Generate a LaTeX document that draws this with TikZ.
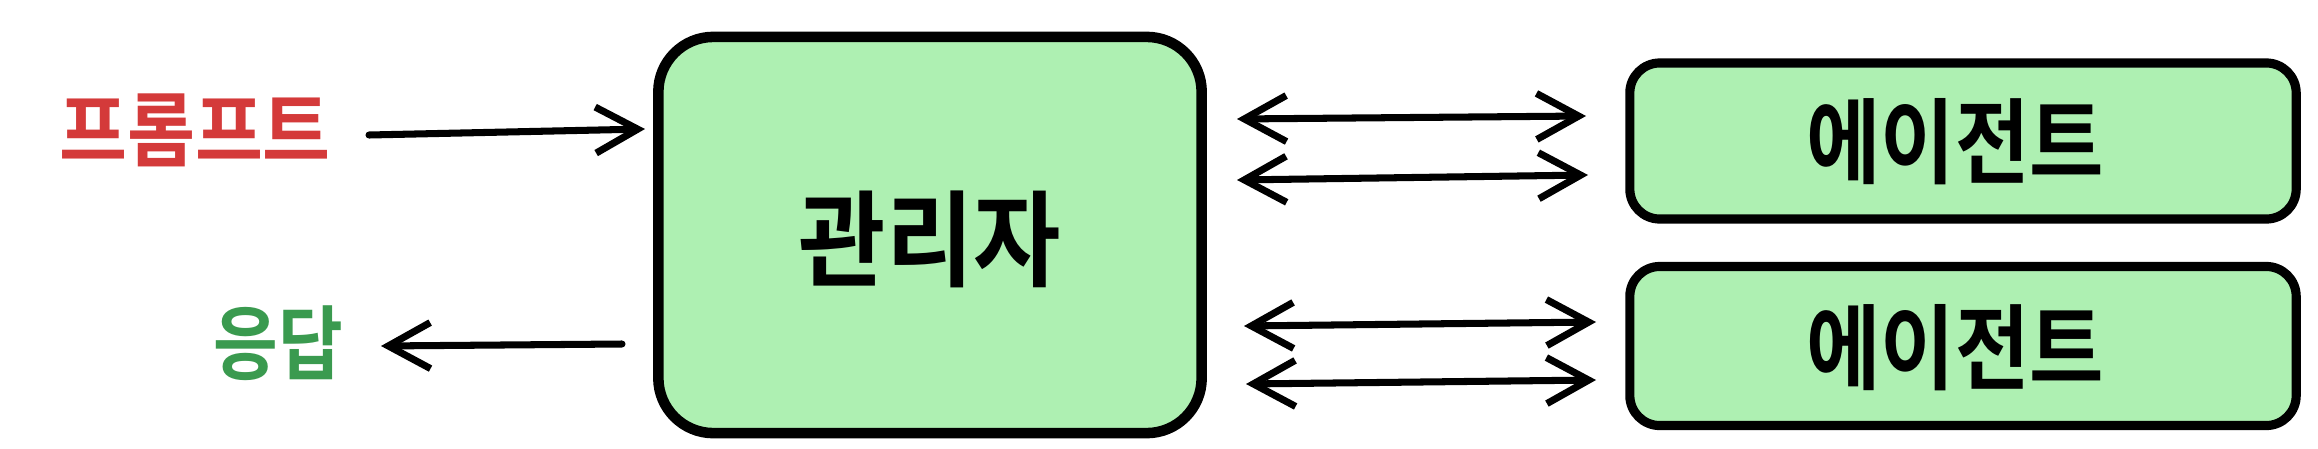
\documentclass[tikz,border=0pt]{standalone}
\usepackage{fontspec}
\newfontfamily\kr{Noto Sans CJK KR}[BoldFont={* Bold}]
\usetikzlibrary{arrows.meta}
\definecolor{boxfill}{HTML}{AEF0B2}
\definecolor{tred}{HTML}{D43A3A}
\definecolor{tgreen}{HTML}{3A9A4F}
\begin{document}
\begin{tikzpicture}[x=0.01cm,y=-0.01cm,
  box/.style={draw=black,fill=boxfill,rounded corners=0.55cm,line width=3pt,inner sep=0pt},
  lbl/.style={font=\kr\bfseries\fontsize{21pt}{24pt}\selectfont},
  arr/.style={line width=2pt,line cap=round,-{Straight Barb[length=0.42cm,width=0.46cm,line width=2pt]}},
  darr/.style={line width=2pt,line cap=round,{Straight Barb[length=0.42cm,width=0.46cm,line width=2pt]}-{Straight Barb[length=0.42cm,width=0.46cm,line width=2pt]}}]
\useasboundingbox (0,0) rectangle (2318,448);
\node[box,minimum width=5.43cm,minimum height=3.96cm] (mgr) at (930,235) {};
\node[lbl,font=\kr\bfseries\fontsize{27pt}{30pt}\selectfont,yscale=1.1,transform shape] (mt) at (930,239) {관리자};
\node[box,minimum width=6.66cm,minimum height=1.56cm,rounded corners=0.3cm,line width=2.6pt] (a1) at (1963,141) {};
\node[box,minimum width=6.66cm,minimum height=1.59cm,rounded corners=0.3cm,line width=2.6pt] (a2) at (1963,346) {};
\node[lbl,font=\kr\bfseries\fontsize{23pt}{26pt}\selectfont,yscale=1.15,transform shape] (t1) at (1955,142) {에이전트};
\node[lbl,font=\kr\bfseries\fontsize{23pt}{26pt}\selectfont,yscale=1.15,transform shape] (t2) at (1955,348) {에이전트};
\node[lbl,text=tred,yscale=1.1,transform shape] (p) at (195,130) {프롬프트};
\node[lbl,text=tgreen,font=\kr\bfseries\fontsize{20pt}{24pt}\selectfont,yscale=1.15,transform shape] (r) at (278,343) {응답};
\coordinate (p1) at (369,135); \coordinate (p2) at (645,129);
\coordinate (r1) at (622,344); \coordinate (r2) at (381,346);
\draw[arr] (p1) -- (p2);
\draw[arr] (r1) -- (r2);
\coordinate (u1) at (1237,119); \coordinate (u2) at (1586,116);
\coordinate (v1) at (1237,180); \coordinate (v2) at (1588,175);
\coordinate (w1) at (1244,326); \coordinate (w2) at (1596,322);
\coordinate (z1) at (1246,384); \coordinate (z2) at (1596,380);
\draw[darr] (u1) -- (u2);
\draw[darr] (v1) -- (v2);
\draw[darr] (w1) -- (w2);
\draw[darr] (z1) -- (z2);
\end{tikzpicture}
\end{document}
